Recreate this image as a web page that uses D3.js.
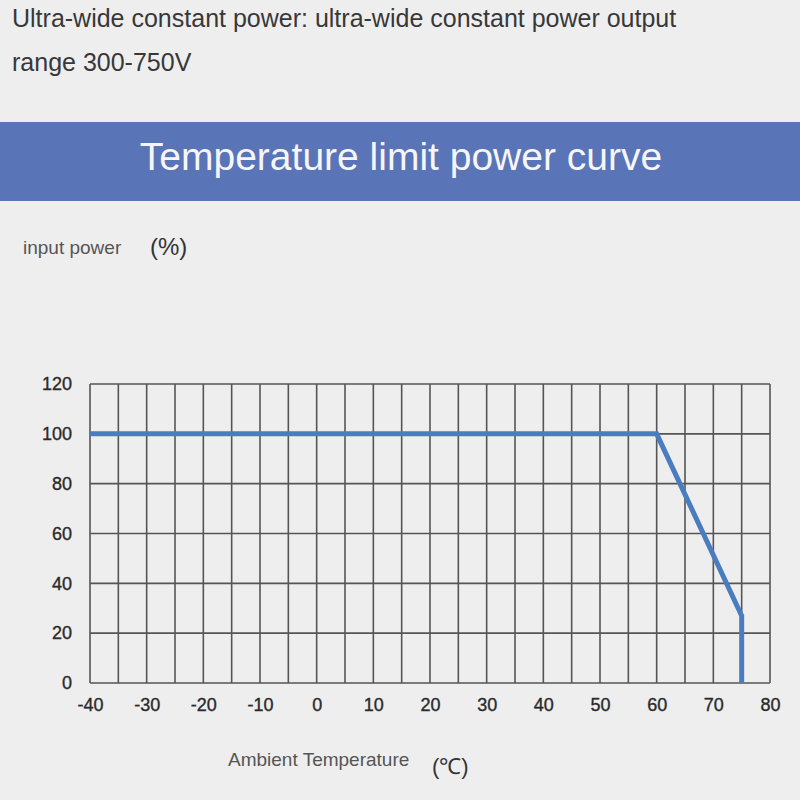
<!DOCTYPE html>
<html>
<head>
<meta charset="utf-8">
<script src="https://cdn.jsdelivr.net/npm/d3@7"></script>
<style>
  html, body { margin: 0; padding: 0; background: #eeeeef; }
  svg { display: block; font-family: "Liberation Sans", Arial, sans-serif; }
</style>
</head>
<body>
<div id="chart"></div>
<script>
// curve data: ambient temperature (C) vs input power (%)
const temps = [-40, 60, 75, 75];
const powers = [100, 100, 27, 0];

const xTicks = [-40, -30, -20, -10, 0, 10, 20, 30, 40, 50, 60, 70, 80];
const xGrid = d3.range(-40, 81, 5);
const yTicks = [0, 20, 40, 60, 80, 100, 120];

const headline = ["Ultra-wide constant power: ultra-wide constant power output", "range 300-750V"];
const bannerText = "Temperature limit power curve";

const W = 800, H = 800;
const svg = d3.select("#chart").append("svg")
  .attr("width", W)
  .attr("height", H);

svg.append("rect").attr("width", W).attr("height", H).attr("fill", "#eeeeef");

// top description text
svg.selectAll(".headline")
  .data(headline)
  .enter()
  .append("text")
  .attr("class", "headline")
  .attr("x", 12)
  .attr("y", (d, i) => 27 + i * 44)
  .attr("font-size", 25)
  .attr("fill", "#383838")
  .text(d => d);

// banner
svg.append("rect")
  .attr("x", 0).attr("y", 122)
  .attr("width", W).attr("height", 79)
  .attr("fill", "#5a74b8");
svg.append("text")
  .attr("x", 401).attr("y", 170)
  .attr("text-anchor", "middle")
  .attr("font-size", 39)
  .attr("fill", "#f6f6f8")
  .text(bannerText);

// axis titles
svg.append("text").attr("x", 23).attr("y", 254)
  .attr("font-size", 19).attr("fill", "#555").text("input power");
svg.append("text").attr("x", 150).attr("y", 255)
  .attr("font-size", 24).attr("fill", "#333").text("(%)");
svg.append("text").attr("x", 228).attr("y", 766)
  .attr("font-size", 19).attr("fill", "#555").text("Ambient Temperature");
svg.append("text").attr("x", 432).attr("y", 774)
  .attr("font-size", 22).attr("fill", "#333").text("(\u2103)");

const margin = { left: 90, right: 30, top: 384, bottom: 117 };
const width = W - margin.left - margin.right;
const height = H - margin.top - margin.bottom;

const chart = svg.append("g")
  .attr("transform", `translate(${margin.left},${margin.top})`);

const xScale = d3.scaleLinear().domain([-40, 80]).range([0, width]);
const yScale = d3.scaleLinear().domain([0, 120]).range([height, 0]);

// grid
chart.append("g")
  .attr("class", "grid")
  .selectAll("line")
  .data(xGrid)
  .enter()
  .append("line")
  .attr("x1", d => xScale(d)).attr("x2", d => xScale(d))
  .attr("y1", 0).attr("y2", height)
  .attr("stroke", "#555").attr("stroke-width", 1.6);

chart.append("g")
  .attr("class", "grid")
  .selectAll("line")
  .data(yTicks)
  .enter()
  .append("line")
  .attr("x1", 0).attr("x2", width)
  .attr("y1", d => yScale(d)).attr("y2", d => yScale(d))
  .attr("stroke", "#555").attr("stroke-width", 1.6);

// y axis labels
chart.append("g")
  .call(d3.axisLeft(yScale).tickValues(yTicks).tickSize(0).tickPadding(18).tickFormat(d => String(d)))
  .call(g => g.select(".domain").remove())
  .selectAll("text")
  .attr("font-size", 18)
  .attr("font-family", "'Liberation Sans', Arial, sans-serif")
  .attr("fill", "#2a2a2a")
  .attr("stroke", "#2a2a2a")
  .attr("stroke-width", 0.35);

// x axis labels
chart.append("g")
  .attr("transform", `translate(0,${height})`)
  .call(d3.axisBottom(xScale).tickValues(xTicks).tickSize(0).tickPadding(15).tickFormat(d => String(d)))
  .call(g => g.select(".domain").remove())
  .selectAll("text")
  .attr("font-size", 18)
  .attr("font-family", "'Liberation Sans', Arial, sans-serif")
  .attr("fill", "#2a2a2a")
  .attr("stroke", "#2a2a2a")
  .attr("stroke-width", 0.35);

// power curve
const line = d3.line()
  .x((d, i) => xScale(temps[i]))
  .y(d => yScale(d));

chart.append("path")
  .datum(powers)
  .attr("d", line)
  .attr("fill", "none")
  .attr("stroke", "#4a7cc0")
  .attr("stroke-width", 5)
  .attr("stroke-linejoin", "miter");
</script>
</body>
</html>
